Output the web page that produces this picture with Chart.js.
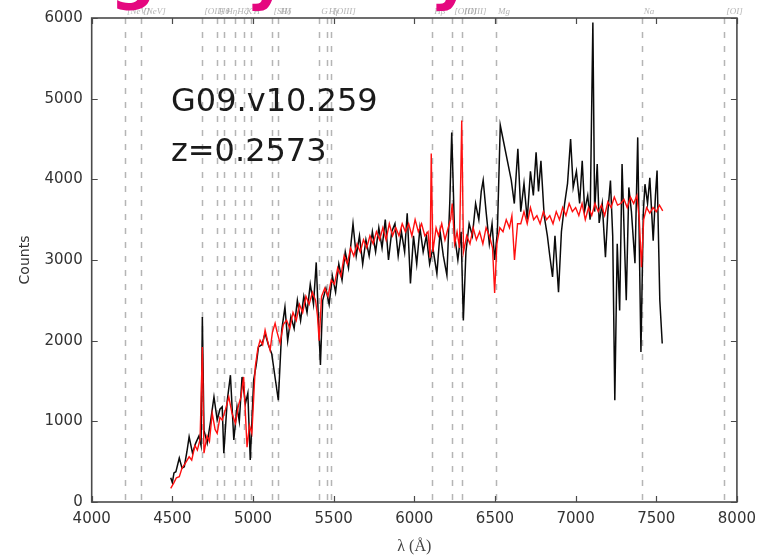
<!DOCTYPE html>
<html>
<head>
<meta charset="utf-8">
<script src="https://cdn.jsdelivr.net/npm/chart.js@4/dist/chart.umd.min.js"></script>
<style>
  html, body { margin: 0; padding: 0; background: #fff; }
  #wrap { width: 764px; height: 558px; position: relative; }
</style>
</head>
<body>
<div id="wrap"><canvas id="spec" width="764" height="558"></canvas></div>
<script>
// Object and redshift
const objectName = 'G09.v10.259';
const redshift = 0.2573;

// Axis ticks
const xTicks = [4000, 4500, 5000, 5500, 6000, 6500, 7000, 7500, 8000];
const yTicks = [0, 1000, 2000, 3000, 4000, 5000, 6000];

// Spectral features (rest-frame wavelengths, Å)
const lineNames = ['[NeV]', '[NeV]', '[OII]', 'Hθ', 'Hη', 'Hζ', 'K', 'H', '[SII]', 'Hδ', 'G', 'Hγ', '[OIII]', 'Hβ', '[OIII]', '[OIII]', 'Mg', 'Na', '[OI]'];
const lineRest = [3346, 3426, 3727, 3798, 3835, 3889, 3934, 3969, 4068, 4102, 4304, 4340, 4363, 4861, 4959, 5007, 5175, 5894, 6300];

// Observed spectrum
const obsWave = [4490,4500,4510,4522,4543,4560,4574,4590,4604,4625,4645,4665,4678,4686,4696,4716,4737,4758,4778,4795,4809,4819,4840,4860,4881,4901,4915,4932,4953,4968,4983,5004,5020,5034,5055,5075,5095,5116,5140,5157,5178,5198,5215,5235,5255,5275,5295,5315,5335,5355,5375,5392,5405,5418,5432,5452,5472,5492,5512,5532,5552,5572,5592,5620,5640,5660,5680,5700,5720,5740,5760,5780,5800,5820,5840,5860,5880,5900,5920,5940,5956,5976,5995,6015,6035,6055,6075,6095,6115,6140,6160,6180,6202,6220,6232,6250,6270,6290,6304,6320,6340,6360,6380,6400,6415,6427,6445,6465,6482,6498,6515,6533,6601,6620,6642,6660,6680,6700,6720,6738,6755,6770,6785,6805,6825,6840,6857,6872,6894,6912,6932,6950,6969,6985,7005,7025,7041,7056,7075,7090,7107,7118,7134,7146,7165,7185,7200,7216,7230,7243,7258,7273,7288,7300,7314,7330,7346,7368,7385,7405,7420,7430,7446,7460,7481,7495,7505,7522,7537];
const obsCounts = [300,240,360,375,545,420,437,620,808,606,730,820,700,2293,891,730,1000,1303,1015,1150,1180,606,1250,1572,768,1180,1000,1550,1220,1350,520,1510,1700,1922,1950,2090,1950,1840,1500,1262,2130,2417,2000,2300,2150,2500,2250,2550,2350,2700,2450,2970,2300,1700,2500,2650,2450,2800,2600,2950,2750,3100,2900,3450,3050,3300,2950,3250,3050,3350,3100,3400,3150,3500,3000,3350,3450,3050,3350,3100,3580,2710,3300,2950,3400,3100,3300,2950,3150,2830,3350,3050,2810,3720,4580,3300,3000,3350,2250,3100,3450,3300,3700,3500,3850,3990,3600,3200,3450,3000,3350,4670,3990,3700,4380,3600,3950,3500,4100,3800,4335,3850,4230,3550,3300,3050,2790,3300,2600,3350,3700,3950,4500,3900,4100,3700,4230,3610,3800,3500,5945,3600,4190,3460,3700,3035,3600,3985,3300,1260,3200,2375,4190,3400,2500,3900,3600,2960,4520,1860,3600,3940,3700,4020,3240,3800,4110,2500,1965];

// Best-fit template
const fitWave = [4490,4510,4525,4543,4560,4580,4604,4620,4640,4655,4672,4686,4696,4715,4730,4747,4765,4778,4795,4809,4830,4850,4870,4891,4910,4925,4942,4963,4978,4993,5014,5030,5044,5060,5075,5090,5106,5120,5137,5150,5168,5188,5208,5228,5248,5268,5288,5308,5328,5348,5368,5388,5400,5410,5425,5445,5465,5485,5505,5525,5545,5565,5585,5605,5625,5645,5665,5685,5705,5725,5745,5765,5785,5805,5825,5845,5865,5885,5905,5925,5945,5965,5985,6005,6025,6045,6065,6085,6098,6105,6115,6135,6150,6170,6190,6210,6225,6235,6250,6265,6280,6294,6305,6325,6345,6365,6385,6405,6425,6445,6465,6485,6498,6512,6530,6550,6570,6590,6605,6621,6640,6660,6680,6700,6720,6740,6760,6780,6800,6820,6840,6860,6880,6900,6920,6940,6960,6980,7000,7020,7040,7060,7080,7100,7120,7140,7160,7180,7200,7220,7240,7260,7280,7300,7320,7340,7360,7380,7395,7408,7422,7440,7460,7480,7500,7520,7540];
const fitCounts = [170,240,300,313,420,480,560,520,700,643,780,1922,606,820,750,1100,900,850,1050,1015,1150,1303,1100,974,1200,1300,1550,680,950,850,1675,1900,2005,1950,2130,2000,1880,2100,2215,2100,1970,2200,2255,2150,2350,2250,2450,2350,2550,2450,2600,2500,2300,2000,2550,2650,2550,2750,2700,2900,2800,3050,2950,3150,3050,3200,3100,3250,3150,3300,3200,3350,3250,3400,3250,3450,3300,3400,3300,3450,3350,3450,3300,3500,3350,3450,3300,3350,3030,4320,3100,3400,3300,3450,3250,3400,3500,3700,3200,3350,3150,4730,3100,3300,3200,3400,3250,3350,3200,3400,3300,3150,2590,3200,3400,3350,3500,3400,3550,3000,3450,3450,3600,3450,3650,3500,3550,3450,3600,3500,3550,3450,3600,3500,3650,3550,3700,3600,3650,3550,3700,3500,3650,3550,3700,3600,3680,3550,3720,3650,3780,3680,3700,3750,3650,3780,3700,3800,3500,2910,3500,3650,3580,3650,3600,3680,3610];

const toPoints = (xs, ys) => xs.map((x, i) => ({ x: x, y: ys[i] }));

const TICK_FONT = { family: 'DejaVu Sans', size: 15 };
const TEXT_GREY = '#333';

// Dashed feature markers, inward ticks, frame and annotations
const decor = {
  id: 'decor',
  beforeDatasetsDraw(chart) {
    const { ctx, chartArea: { top, bottom }, scales: { x } } = chart;
    ctx.save();
    ctx.strokeStyle = 'rgba(150,150,150,0.7)';
    ctx.lineWidth = 1.5;
    ctx.setLineDash([6, 8]);
    lineRest.forEach(rest => {
      const px = Math.round(x.getPixelForValue(rest * (1 + redshift))) + 0.5;
      ctx.beginPath();
      ctx.moveTo(px, top);
      ctx.lineTo(px, bottom);
      ctx.stroke();
    });
    ctx.restore();
  },
  afterDraw(chart) {
    const { ctx, chartArea: { left, right, top, bottom }, scales: { x, y } } = chart;
    ctx.save();
    // feature labels above the frame
    ctx.fillStyle = 'rgba(140,140,140,0.65)';
    ctx.font = 'italic 9px "Liberation Serif"';
    ctx.textAlign = 'left';
    ctx.textBaseline = 'alphabetic';
    lineRest.forEach((rest, i) => {
      const px = x.getPixelForValue(rest * (1 + redshift));
      ctx.fillText(lineNames[i], px + 2, top - 4);
    });

    // frame
    ctx.strokeStyle = '#4a4a4a';
    ctx.lineWidth = 1.6;
    ctx.strokeRect(left, top, right - left, bottom - top);

    // inward ticks on all four sides
    const tl = 6;
    ctx.lineWidth = 1.2;
    ctx.beginPath();
    xTicks.forEach(v => {
      const px = Math.round(x.getPixelForValue(v)) + 0.5;
      ctx.moveTo(px, bottom); ctx.lineTo(px, bottom - tl);
      ctx.moveTo(px, top); ctx.lineTo(px, top + tl);
    });
    yTicks.forEach(v => {
      const py = Math.round(y.getPixelForValue(v)) + 0.5;
      ctx.moveTo(left, py); ctx.lineTo(left + tl, py);
      ctx.moveTo(right, py); ctx.lineTo(right - tl, py);
    });
    ctx.stroke();

    // object id and redshift
    ctx.fillStyle = '#1a1a1a';
    ctx.font = '32px "DejaVu Sans"';
    ctx.fillText(objectName, 171, 111);
    ctx.fillText('z=' + redshift.toFixed(4), 171, 161);

    // heading running off the top edge
    ctx.fillStyle = '#e5077f';
    ctx.font = 'bold 64px "DejaVu Sans"';
    ctx.fillText('g', 110, -3);
    ctx.fillText('y', 246, -3);
    ctx.fillText('y', 430, -3);
    ctx.restore();
  }
};

new Chart(document.getElementById('spec'), {
  type: 'line',
  data: {
    datasets: [
      {
        label: 'template',
        data: toPoints(fitWave, fitCounts),
        borderColor: '#ff1010',
        borderWidth: 1.4,
        pointRadius: 0,
        tension: 0,
        fill: false,
        order: 0
      },
      {
        label: objectName,
        data: toPoints(obsWave, obsCounts),
        borderColor: '#0a0a0a',
        borderWidth: 1.5,
        pointRadius: 0,
        tension: 0,
        fill: false,
        order: 1
      }
    ]
  },
  options: {
    responsive: false,
    animation: false,
    devicePixelRatio: 1,
    layout: { padding: { left: 0, right: 21.3, top: 17.5, bottom: 0 } },
    plugins: { legend: { display: false }, tooltip: { enabled: false }, title: { display: false } },
    scales: {
      x: {
        type: 'linear',
        min: 4000,
        max: 8000,
        afterBuildTicks: s => { s.ticks = xTicks.map(v => ({ value: v })); },
        afterFit: s => { s.height = 56; },
        grid: { display: false, drawTicks: false },
        border: { display: false },
        ticks: { color: TEXT_GREY, font: TICK_FONT, padding: 8, maxRotation: 0, autoSkip: false, callback: v => String(v) },
        title: { display: true, text: 'λ (Å)', color: '#444', font: { family: 'Liberation Serif', size: 16 }, padding: { top: 0, bottom: 2 } }
      },
      y: {
        type: 'linear',
        min: 0,
        max: 6000,
        afterBuildTicks: s => { s.ticks = yTicks.map(v => ({ value: v })); },
        afterFit: s => { s.width = 91.7; },
        grid: { display: false, drawTicks: false },
        border: { display: false },
        ticks: { color: TEXT_GREY, font: TICK_FONT, padding: 9, autoSkip: false, callback: v => String(v) },
        title: { display: true, text: 'Counts', color: TEXT_GREY, font: { family: 'DejaVu Sans', size: 14 }, padding: { top: 17, bottom: 0 } }
      }
    }
  },
  plugins: [decor]
});
</script>
</body>
</html>
